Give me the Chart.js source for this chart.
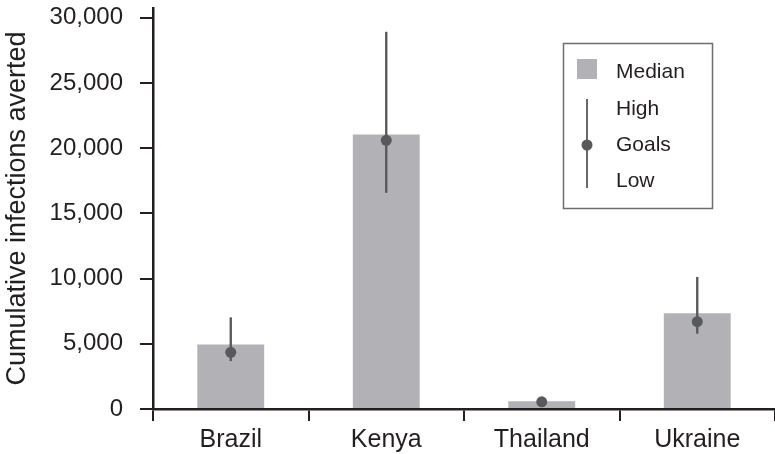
<!DOCTYPE html>
<html>
<head>
<meta charset="utf-8">
<title>Cumulative infections averted</title>
<script src="https://cdn.jsdelivr.net/npm/chart.js@4.4.1/dist/chart.umd.min.js"></script>
<style>
  html, body { margin: 0; padding: 0; background: #fff; }
  #wrap { position: relative; width: 775px; height: 454px; }
</style>
</head>
<body>
<div id="wrap"><canvas id="chart"></canvas></div>
<script>
const countries = ['Brazil', 'Kenya', 'Thailand', 'Ukraine'];
const median = [4950, 21050, 600, 7350];
const goals = [4350, 20600, 550, 6700];
const high = [7000, 28900, 620, 10100];
const low = [3700, 16600, 480, 5800];
const yTicks = [0, 5000, 10000, 15000, 20000, 25000, 30000];
const legendItems = ['Median', 'High', 'Goals', 'Low'];

const ink = '#231f20';
const barGrey = '#b2b2b6';
const markGrey = '#58595b';
const family = '"Liberation Sans", Arial, Helvetica, sans-serif';

// the legend has a whisker sample, so it is drawn by hand
const legendBox = {
  id: 'legendBox',
  afterDraw(chart) {
    const ctx = chart.ctx;
    ctx.save();
    ctx.strokeStyle = '#6d6e71';
    ctx.lineWidth = 1.5;
    ctx.strokeRect(563.5, 43.5, 149, 165);

    ctx.fillStyle = barGrey;
    ctx.fillRect(577, 59, 20, 20);

    ctx.strokeStyle = markGrey;
    ctx.lineWidth = 1.8;
    ctx.beginPath();
    ctx.moveTo(587, 99);
    ctx.lineTo(587, 188);
    ctx.stroke();
    ctx.fillStyle = markGrey;
    ctx.beginPath();
    ctx.arc(587, 145, 5.5, 0, Math.PI * 2);
    ctx.fill();

    ctx.fillStyle = ink;
    ctx.font = '21px ' + family;
    ctx.textBaseline = 'middle';
    const rows = [72, 109, 145, 181];
    legendItems.forEach((t, i) => ctx.fillText(t, 616, rows[i]));
    ctx.restore();
  }
};

new Chart(document.getElementById('chart'), {
  data: {
    labels: countries,
    datasets: [
      {
        type: 'line',
        label: 'Goals',
        data: goals,
        showLine: false,
        pointRadius: 5.5,
        pointBackgroundColor: markGrey,
        pointBorderWidth: 0,
        order: 1
      },
      {
        type: 'bar',
        label: 'Range',
        data: countries.map((c, i) => [low[i], high[i]]),
        backgroundColor: markGrey,
        barThickness: 1.7,
        grouped: false,
        order: 2
      },
      {
        type: 'bar',
        label: 'Median',
        data: median,
        backgroundColor: barGrey,
        categoryPercentage: 1,
        barPercentage: 0.43,
        grouped: false,
        order: 3
      }
    ]
  },
  options: {
    responsive: true,
    maintainAspectRatio: false,
    animation: false,
    layout: { autoPadding: false, padding: { top: 8, right: 0, left: 0, bottom: 0 } },
    plugins: { legend: { display: false }, tooltip: { enabled: false } },
    scales: {
      x: {
        type: 'category',
        offset: true,
        grid: { offset: true, drawOnChartArea: false, tickLength: 12, color: ink, lineWidth: 2 },
        border: { color: ink, width: 2.5 },
        ticks: { color: ink, font: { family: family, size: 25 }, padding: 4 },
        afterFit: s => { s.height = 45; s.paddingLeft = 0; s.paddingRight = 0; }
      },
      y: {
        min: 0,
        max: 30750,
        grid: { drawOnChartArea: false, tickLength: 13, color: ink, lineWidth: 2 },
        border: { color: ink, width: 2.5 },
        ticks: {
          color: ink,
          font: { family: family, size: 24 },
          padding: 17,
          callback: v => v.toLocaleString('en-US')
        },
        afterBuildTicks: s => { s.ticks = yTicks.map(v => ({ value: v })); },
        afterFit: s => { s.width = 153; s.paddingTop = 0; s.paddingBottom = 0; },
        title: {
          display: true,
          text: 'Cumulative infections averted',
          color: ink,
          font: { family: family, size: 27 },
          padding: { top: 1, bottom: 0 }
        }
      }
    }
  },
  plugins: [legendBox]
});
</script>
</body>
</html>
